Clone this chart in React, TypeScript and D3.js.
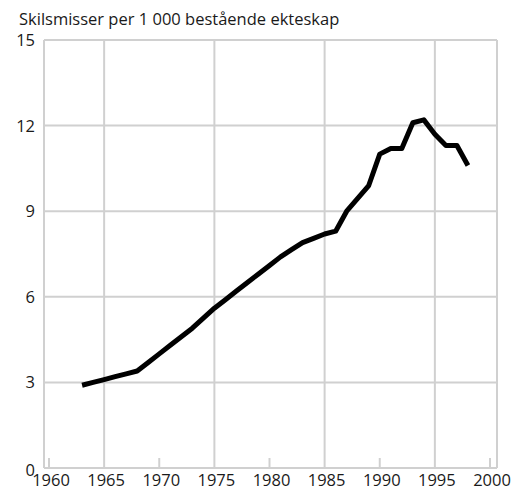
import React from "react";
import * as d3 from "d3";

const years = [1963, 1964, 1965, 1966, 1967, 1968, 1969, 1970, 1971, 1972, 1973, 1974, 1975, 1976, 1977, 1978, 1979, 1980, 1981, 1982, 1983, 1984, 1985, 1986, 1987, 1988, 1989, 1990, 1991, 1992, 1993, 1994, 1995, 1996, 1997, 1998];
const values = [2.9, 3.0, 3.1, 3.2, 3.3, 3.4, 3.7, 4.0, 4.3, 4.6, 4.9, 5.25, 5.6, 5.9, 6.2, 6.5, 6.8, 7.1, 7.4, 7.65, 7.9, 8.05, 8.2, 8.3, 9.0, 9.45, 9.9, 11.0, 11.2, 11.2, 12.1, 12.2, 11.7, 11.3, 11.3, 10.6];
const yTicks = [0, 3, 6, 9, 12, 15];
const xGrid = [1965, 1975, 1985, 1995];
const xMinor = [1960, 1970, 1980, 1990, 2000];
const xLabels = [1960, 1965, 1970, 1975, 1980, 1985, 1990, 1995, 2000];
const title = "Skilsmisser per 1 000 bestående ekteskap";

export default function App() {
  const W = 522, H = 488;
  const x = d3.scaleLinear().domain([1960, 2000]).range([49, 490]);
  const y = d3.scaleLinear().domain([0, 15]).range([468, 40]);
  const left = 44, right = 497;
  const grid = "#d0d0d0";
  const font = "'Open Sans', sans-serif";
  const fs = 16.5;
  const line = d3.line<number>().x((_, i) => x(years[i])).y((d) => y(d));
  return (
    <svg width={W} height={H} style={{ position: "absolute", left: 0, top: 0 }}>
      <rect width={W} height={H} fill="#fff" />
      <text x={19} y={25} fontFamily={font} fontSize={fs} fill="#1a1a1a">{title}</text>
      {yTicks.filter((t) => t > 0).map((t) => (
        <line key={"h" + t} x1={left} x2={right} y1={y(t)} y2={y(t)} stroke={grid} strokeWidth={2} />
      ))}
      <line x1={left} x2={right} y1={y(0)} y2={y(0)} stroke={grid} strokeWidth={2} />
      <line x1={left} x2={left} y1={y(15)} y2={y(0)} stroke={grid} strokeWidth={2} />
      <line x1={right} x2={right} y1={y(15)} y2={y(0)} stroke={grid} strokeWidth={2} />
      {xGrid.map((t) => (
        <line key={"v" + t} x1={x(t)} x2={x(t)} y1={y(15)} y2={y(0)} stroke={grid} strokeWidth={2} />
      ))}
      {xMinor.map((t) => (
        <line key={"m" + t} x1={x(t)} x2={x(t)} y1={y(0) - 10} y2={y(0)} stroke={grid} strokeWidth={2} />
      ))}
      {yTicks.map((t) => (
        <text key={"yl" + t} x={35} y={y(t) + (t === 0 ? 8 : 6)} textAnchor="end" fontFamily={font} fontSize={fs} fill="#1a1a1a">{t}</text>
      ))}
      {xLabels.map((t) => (
        <text key={"xl" + t} x={x(t) + 2} y={486} textAnchor="middle" fontFamily={font} fontSize={fs} fill="#1a1a1a">{t}</text>
      ))}
      <path d={line(values) || ""} fill="none" stroke="#000" strokeWidth={5} strokeLinejoin="round" strokeLinecap="butt" />
    </svg>
  );
}
